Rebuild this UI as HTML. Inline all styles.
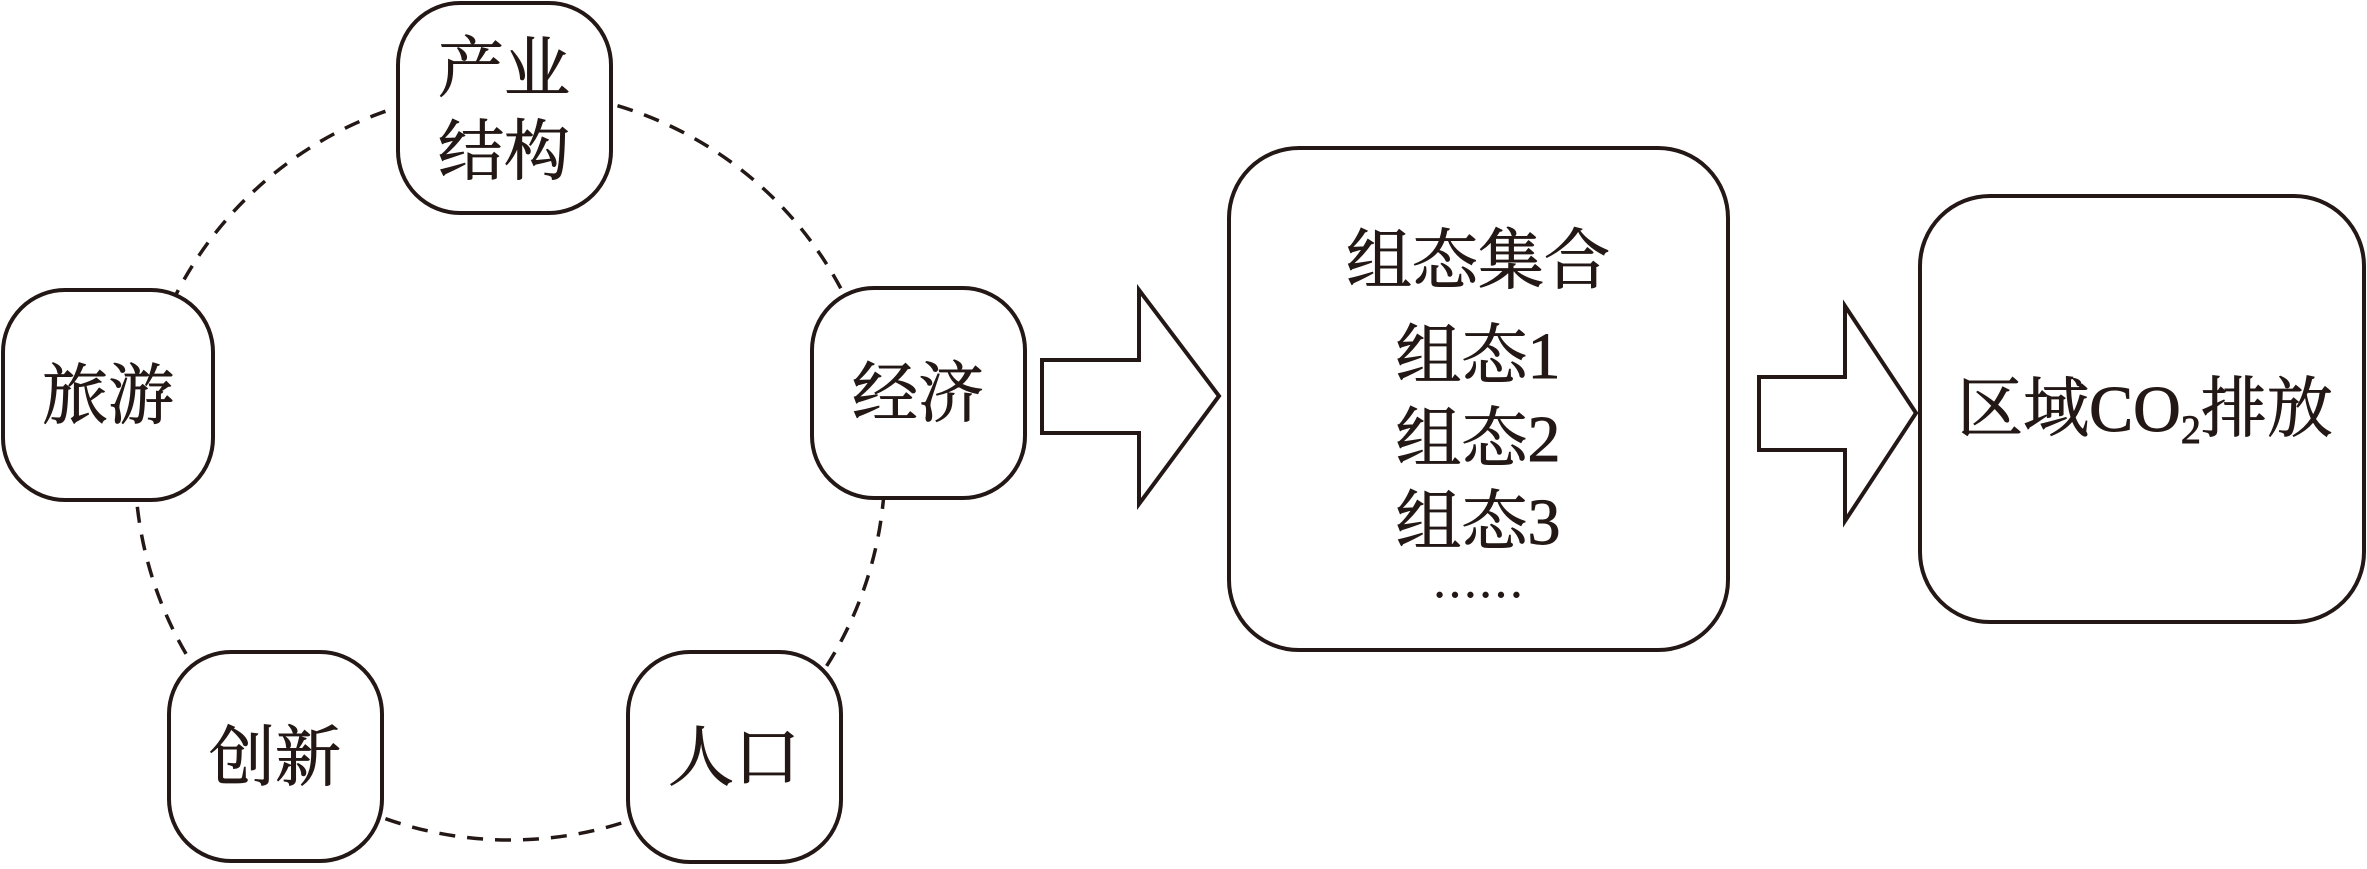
<!DOCTYPE html>
<html><head><meta charset="utf-8"><style>
html,body{margin:0;padding:0;background:#fff;}
svg{display:block;}
text{font-family:"Liberation Serif","Noto Serif CJK SC",serif;font-size:66px;fill:#231815;stroke:#231815;stroke-width:0.9px;}
</style></head><body>
<svg width="2367" height="869" viewBox="0 0 2367 869" xmlns="http://www.w3.org/2000/svg">
<circle cx="510" cy="465" r="375" fill="none" stroke="#231815" stroke-width="3.5" stroke-dasharray="16 12"/>
<g fill="#fff" stroke="#231815" stroke-width="4">
<rect x="398" y="3" width="213" height="210" rx="62"/>
<rect x="3" y="290" width="210" height="210" rx="62"/>
<rect x="812" y="288" width="213" height="210" rx="62"/>
<rect x="169" y="652" width="213" height="209" rx="62"/>
<rect x="628" y="652" width="213" height="210" rx="62"/>
<rect x="1229" y="148" width="499" height="502" rx="70"/>
<rect x="1920" y="196" width="444" height="426" rx="70"/>
<polygon points="1042,360 1139,360 1139,290 1219,396 1139,504 1139,433 1042,433"/>
<polygon points="1759,377 1845,377 1845,306 1916,413 1845,521 1845,450 1759,450"/>
</g>
<g text-anchor="middle">
<text x="504" y="91">产业</text>
<text x="504" y="174">结构</text>
<text x="108" y="418">旅游</text>
<text x="918" y="416">经济</text>
<text x="275" y="780">创新</text>
<text x="734" y="780">人口</text>
<text x="1478" y="283">组态集合</text>
<text x="1478" y="378">组态1</text>
<text x="1478" y="461">组态2</text>
<text x="1478" y="544">组态3</text>
<text x="1478" y="597" style="font-size:46px">……</text>
<text x="2145" y="431">区域CO<tspan font-size="40" dy="12">2</tspan><tspan dy="-12">排放</tspan></text>
</g>
</svg>
</body></html>
